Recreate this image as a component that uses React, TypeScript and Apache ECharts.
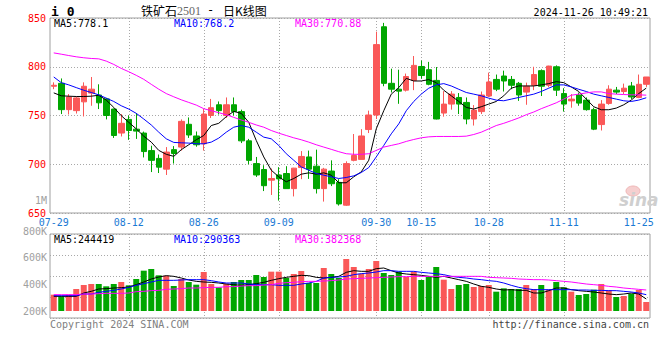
import React, { useEffect, useRef } from "react";
import * as echarts from "echarts";

// ---------- data ----------
const dates = [
  "07-29","07-30","07-31",
  "08-01","08-02","08-05","08-06","08-07","08-08","08-09","08-12","08-13","08-14","08-15","08-16","08-19","08-20","08-21","08-22","08-23","08-26","08-27","08-28","08-29","08-30",
  "09-02","09-03","09-04","09-05","09-06","09-09","09-10","09-11","09-12","09-13","09-18","09-19","09-20","09-23","09-24","09-25","09-26","09-27","09-30",
  "10-08","10-09","10-10","10-11","10-14","10-15","10-16","10-17","10-18","10-21","10-22","10-23","10-24","10-25","10-28","10-29","10-30","10-31",
  "11-01","11-04","11-05","11-06","11-07","11-08","11-11","11-12","11-13","11-14","11-15","11-18","11-19","11-20","11-21","11-22","11-25","11-26",
];
const xTickLabels = ["07-29","08-12","08-26","09-09","09-30","10-15","10-28","11-11","11-25"];
const xGridDates = ["08-12","08-26","09-09","09-30","10-15","10-28","11-11"];

const opens = [780,783,756,755,764,773,771,767,756.6,732, 746,736,732,714,706,695,715,717.6,741,729, 721,750,761,750,761,754,724,700.7,694.6,683.7, 689,690.5,675,696.6,707.5,698,675,693,681.4,658, 704,705,735.6,750.5,841,783,777,776,786,800.3, 797,786,752.5,761.7,768.5,763.4,746.4,754,770,787, 790.5,787,783,774,781,796,781,800,772.5,765, 771,765.8,756,740.7,762.4,776,774.6,780.3,768.5,782];
const closes = [781,756,769,768,780,777,763,750,729.5,742, 734.6,734,713,704,697,712.5,711,744,730,720, 751.5,758,755,761,754,724,704,689,678,685.4, 685,675,696,708,695,675,695,680,659.3,700.7, 709,729,750.5,822.7,783,777,775,790,801.4,791, 782,746.4,761.7,772,761.7,746.4,755.6,771,784.4,777, 785.4,781,771,780,792,780,800.7,776,761.7,766.8, 762.7,756,736,761.7,777,774,778,769,782,789.5];
const lows = [777,751.5,751,752,749,760,756.6,746,727,728.5, 725,726,707,692,691,689,700.7,714,727,718, 714,747.5,751,747.5,750,721.7,700,687,672.5,668.5, 662.7,675,667,684.7,685,670,661.7,677.6,657.6,657.3, 703,705,732,746.4,780,773.6,762,774.6,776,787.8, 781,746,748.8,756,751.5,741,739.7,751.5,769,775, 774.6,777,765,761,776,770,779,770,754,758, 760,755,735,734.6,761,772,772,766.8,767.8,779.3];
const highs = [784,788,772,769,784,789.5,782,768,757,751.5, 750,752.5,733.5,719,710,717.6,718.6,746,748,733.6, 756.6,767,764.4,768.5,768.5,756,726,707.5,699,695.6, 697,698,696.3,713.5,714,715,696.3,704,684.7,703, 731,736,755,836,845,798,797,793,811,806.4, 805,799.7,775,775,773,768.5,760.7,774.6,794,792, 796,790.5,784.4,783.7,800,797.3,801,801.4,778,772, 773.6,768.5,758,765.8,781,779.3,782.7,784.4,792,789.5];

const ma5 = [773.2,770.2,769.8,769.5,769.5,769.8,770.8,765.8,758.3,749.8, 743,736.3,728.8,722.7,714.2,710.2,708.1,714.9,720,725.1, 729.5,739.7,742,748.8,754.2,752.2,743,724.4,707.5,693.9, 687.1,682,685.4,689.8,691.2,689.8,691.2,688.8,681,681, 687.1,692.2,704.1,736.3,754.9,771.9,778.6,788.1,785.4,785.4, 786.8,783.7,775.9,770.2,764.4,758.3,756.6,759,761.7,764.4, 770.2,778,780.3,780.3,780.3,781.4,782.7,784.7,783.7,779.3, 774.6,766.8,759,755.9,755.9,757.6,761,765.8,772.5,778.1];
const ma10 = [789.5,783.7,781.4,778.6,775.9,773.6,771.2,767.8,764.4,760, 756.6,752.2,746.4,740.3,732.9,726.1,722.4,722,721.7,721, 721,722.7,726.8,732.9,738,739.7,738,732.9,727.8,726.1, 719.3,710.8,704.1,697.3,693.9,690.5,688.8,687.1,685.4,686.4, 688.1,691.5,696.6,707.5,719.3,731.2,741.4,754.9,764.4,771.9, 778,781.4,782.7,780.3,776.9,773.6,771.9,770.2,767.8,765.8, 765.1,766.8,768.5,770.2,771.9,774.6,778,781.4,781.4,779.3, 776.9,774.6,771.9,770.2,768.5,766.8,765.1,764.4,765.8,768.2];
const ma30 = [814.2,812.9,811.5,810.2,809.2,808.5,808.1,805.8,802.4,798.3, 794.9,791.2,787.1,782,777,772.5,769.2,766.1,763.4,760.7, 757,754.9,752.9,750.8,748.1,745.4,743,740.3,738,734.6, 731.9,729.5,727.1,725.1,722.7,720,717.6,715.3,712.9,710.8, 710.2,710.2,710.8,714.2,717.6,719.3,721,723.4,725.4,727.1, 728.1,728.5,728.5,728.5,728.5,728.8,730.5,732.9,736.3,739.7, 742,744.7,747.5,750.8,753.6,757,760,763,766.8,770.8, 771.9,773.2,774.2,774.2,772.5,771.9,771.5,771.2,771.2,770.88];

// volume, in thousands of lots
const volK = [322.5,310,322.5,365,395,402.5,402.5,385,402.5,417.5, 392.5,440,502.5,515,467.5,465,387.5,440,417.5,397.5, 492.5,402.5,377.5,405,417.5,432.5,432.5,470,455,495, 495,447.5,477.5,500,410,410,522.5,477.5,447.5,590, 530,480,515,575,485,470,495,455,495,432.5, 455,530,435,365,395,402.5,380,387.5,395,345, 370,365,365,395,365,395,360,417.5,377.5,345, 320,327.5,360,402.5,355,305,312.5,330,357.5,267.5];
const volDir = "rgrrrrgggr" + "gggggrgrgg" + "rrgrgggggr" + "rgrrggrggr" + "rrrrgggrrg" + "ggrrggrrrg" + "gggrrgrggr" + "gggrrgrgrr";
const volMa5K = [310,310,310,310,335,347.5,365,367.5,372.5,375, 380,397.5,417.5,440,455,465,460,447.5,432.5,422.5, 417.5,415,410,402.5,397.5,392.5,397.5,405,415,430, 442.5,452.5,460,467.5,465,452.5,447.5,452.5,460,490, 502.5,497.5,497.5,517.5,522.5,502.5,485,477.5,472.5,467.5, 460,452.5,460,447.5,435,422.5,402.5,385,377.5,365, 357.5,360,355,355,335,335,352.5,372.5,372.5,360, 352.5,347.5,342.5,335,327.5,322.5,327.5,335,327.5,290];
const volMa10K = [315,315,315,315,327.5,327.5,340,347.5,355,365, 377.5,392.5,405,417.5,430,430,430,432.5,435,435, 435,427.5,417.5,410,410,410,402.5,397.5,397.5,397.5, 392.5,392.5,392.5,402.5,410,422.5,447.5,452.5,455,460, 472.5,480,485,492.5,502.5,502.5,497.5,497.5,497.5,490, 485,480,472.5,460,452.5,447.5,440,435,427.5,422.5, 410,392.5,377.5,367.5,360,360,360,360,360,360, 357.5,357.5,355,355,352.5,352.5,347.5,342.5,335,322.5];
const volMa30K = [322.5,322.5,322.5,322.5,327.5,327.5,330,332.5,332.5,332.5, 335,345,347.5,352.5,355,362.5,365,367.5,372.5,372.5, 375,377.5,377.5,382.5,382.5,387.5,390,390,395,397.5, 407.5,412.5,415,420,422.5,422.5,425,427.5,432.5,440, 442.5,445,447.5,450,452.5,455,457.5,457.5,460,460, 460,460,460,460,460,460,460,460,452.5,450, 447.5,445,440,437.5,435,435,432.5,427.5,422.5,417.5, 410,402.5,397.5,392.5,385,380,372.5,367.5,362.5,357.5];

const priceLegend = ["MA5:778.1", "MA10:768.2", "MA30:770.88"];
const volLegend = ["MA5:244419", "MA10:290363", "MA30:382368"];

// ---------- styles ----------
const MONO = "'DejaVu Sans Mono', 'Liberation Mono', monospace";
const CJK = "'Noto Sans CJK SC', sans-serif";
const RED = "#fa5858";
const GREEN = "#00a600";
const BLUE_DATE = "#1a7ad4";
const MA_COLORS = ["#000000", "#0000ff", "#ff00ff"];
const BORDER = "#a0a0a0";
const dotted = { color: "#a8a8a8", type: [1, 2], width: 1 };

const labelSet = new Set(xTickLabels);
const gridSet = new Set(xGridDates);

function xAxisFor(gridIndex: number, showLabel: boolean, showSplit: boolean) {
  return {
    type: "category",
    gridIndex,
    data: dates,
    boundaryGap: true,
    show: true,
    axisTick: { show: false },
    axisLine: { show: false },
    axisLabel: showLabel
      ? {
          show: true,
          interval: (i: number) => labelSet.has(dates[i]),
          color: BLUE_DATE,
          fontFamily: MONO,
          fontSize: 10,
          margin: 4,
        }
      : { show: false },
    splitLine: showSplit
      ? {
          show: true,
          alignWithLabel: true,
          interval: (i: number) => gridSet.has(dates[i]),
          lineStyle: dotted,
        }
      : { show: false },
  };
}

function text(x: number, y: number, t: string, fill: string, extra: any = {}) {
  return {
    type: "text",
    x,
    y,
    silent: true,
    z: 100,
    style: {
      text: t,
      fill,
      font: extra.font || `10px ${MONO}`,
      align: extra.align || "left",
      verticalAlign: "middle",
    },
  };
}

function buildOption() {
  const candleData = dates.map((_, i) => [opens[i], closes[i], lows[i], highs[i]]);
  const barData = volK.map((v, i) => ({
    value: v,
    itemStyle: { color: volDir[i] === "r" ? RED : GREEN },
  }));
  const line = (data: number[], color: string, xi: number, yi: number) => ({
    type: "line",
    data,
    xAxisIndex: xi,
    yAxisIndex: yi,
    symbol: "none",
    smooth: false,
    lineStyle: { color, width: 1 },
    z: 5,
  });

  return {
    animation: false,
    backgroundColor: "#ffffff",
    grid: [
      { left: 50, top: 18, width: 600, height: 195, show: true, borderColor: BORDER, borderWidth: 1 },
      { left: 50, top: 234, width: 600, height: 84, show: true, borderColor: BORDER, borderWidth: 1 },
      { left: 50, top: 231, width: 600, height: 80, show: false },
    ],
    xAxis: [xAxisFor(0, true, true), xAxisFor(1, false, true), { ...xAxisFor(2, false, false), show: false }],
    yAxis: [
      {
        type: "value",
        gridIndex: 0,
        min: 650,
        max: 850,
        interval: 50,
        axisLine: { show: false },
        axisTick: { show: false },
        axisLabel: { color: "#ff0000", fontFamily: MONO, fontSize: 10, margin: 4, showMinLabel: true, showMaxLabel: true },
        splitLine: { show: true, lineStyle: dotted },
      },
      {
        type: "value",
        gridIndex: 1,
        min: 0,
        max: 4,
        interval: 1,
        axisLine: { show: false },
        axisTick: { show: false },
        axisLabel: { show: false },
        splitLine: { show: true, lineStyle: dotted },
      },
      {
        type: "value",
        gridIndex: 2,
        min: 200,
        max: 800,
        interval: 200,
        axisLine: { show: false },
        axisTick: { show: false },
        axisLabel: {
          color: "#a0a0a0",
          fontFamily: MONO,
          fontSize: 10,
          margin: 3,
          showMinLabel: true,
          showMaxLabel: true,
          formatter: (v: number) => `${v}K`,
        },
        splitLine: { show: false },
      },
    ],
    series: [
      {
        type: "candlestick",
        xAxisIndex: 0,
        yAxisIndex: 0,
        data: candleData,
        barWidth: 6,
        itemStyle: { color: RED, color0: GREEN, borderColor: RED, borderColor0: GREEN, borderWidth: 1 },
        z: 3,
      },
      line(ma5, MA_COLORS[0], 0, 0),
      line(ma10, MA_COLORS[1], 0, 0),
      line(ma30, MA_COLORS[2], 0, 0),
      {
        type: "bar",
        xAxisIndex: 2,
        yAxisIndex: 2,
        data: barData,
        barWidth: 6,
        clip: true,
        z: 3,
      },
      line(volMa5K, MA_COLORS[0], 2, 2),
      line(volMa10K, MA_COLORS[1], 2, 2),
      line(volMa30K, MA_COLORS[2], 2, 2),
    ],
    graphic: [
      text(51, 11, "i 0", "#000", { font: `bold 13px ${MONO}` }),
      text(141, 10, "铁矿石", "#000", { font: `12px ${CJK}` }),
      text(177, 10.5, "2501", "#666", { font: `12px 'Liberation Serif', serif` }),
      text(207, 10, "-", "#000", { font: `12px ${MONO}` }),
      text(223, 10, "日K线图", "#000", { font: `12px ${CJK}` }),
      text(648, 12, "2024-11-26 10:49:21", "#000", { align: "right" }),
      text(54, 23.5, priceLegend[0], MA_COLORS[0]),
      text(174, 23.5, priceLegend[1], MA_COLORS[1]),
      text(295, 23.5, priceLegend[2], MA_COLORS[2]),
      text(47, 200.5, "1M", "#a0a0a0", { align: "right" }),
      text(54, 239, volLegend[0], MA_COLORS[0]),
      text(174, 239, volLegend[1], MA_COLORS[1]),
      text(295, 239, volLegend[2], MA_COLORS[2]),
      text(50, 324, "Copyright 2024 SINA.COM", "#808080"),
      text(649, 324, "http://finance.sina.com.cn", "#444444", { align: "right" }),
      {
        type: "ellipse",
        silent: true,
        z: 1,
        shape: { cx: 633, cy: 191, rx: 7, ry: 5 },
        style: { fill: "#f6cfcf", stroke: "#f0b8b8", lineWidth: 1 },
      },
      text(619, 200, "sina", "#cfcfcf", { font: `italic bold 17px 'DejaVu Sans', sans-serif` }),
    ],
  };
}

export default function App() {
  const ref = useRef<HTMLDivElement>(null);
  useEffect(() => {
    if (!ref.current) return;
    const chart = echarts.init(ref.current, null, { renderer: "svg" });
    chart.setOption(buildOption() as any);
    return () => chart.dispose();
  }, []);
  return (
    <div
      ref={ref}
      style={{ position: "fixed", left: 0, top: 0, width: 660, height: 360, background: "#fff" }}
    />
  );
}
